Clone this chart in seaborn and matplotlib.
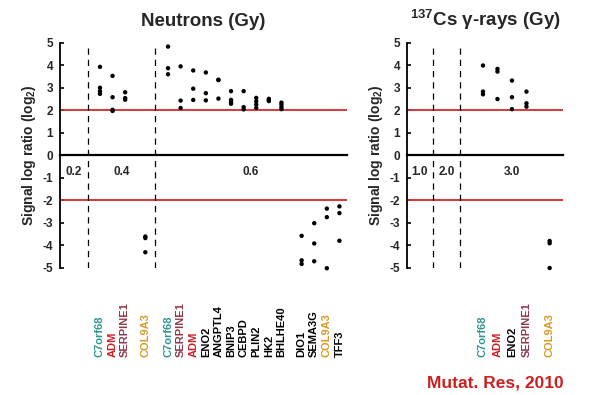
import numpy as np
import pandas as pd
import matplotlib
matplotlib.use("Agg")
import matplotlib.pyplot as plt
import matplotlib.transforms as mtransforms
import seaborn as sns

# Neutron panel data (dose in Gy, gene, log2 ratios)
neutron_doses = ["0.4"] * 4 + ["0.6"] * 14
neutron_genes = ["C7orf68", "ADM", "SERPINE1", "COL9A3",
                 "C7orf68", "SERPINE1", "ADM", "ENO2", "ANGPTL4", "BNIP3",
                 "CEBPD", "PLIN2", "HK2", "BHLHE40",
                 "DIO1", "SEMA3G", "COL9A3", "TFF3"]
neutron_values = [
    [3.94, 3.01, 2.86, 2.74],
    [3.54, 2.59, 2.03, 1.98],
    [2.81, 2.55, 2.48],
    [-3.60, -3.67, -4.30],
    [4.84, 3.88, 3.61],
    [3.96, 2.44, 2.11],
    [3.78, 2.97, 2.47],
    [3.69, 2.77, 2.45],
    [3.37, 3.35, 2.53],
    [2.86, 2.47, 2.38, 2.30],
    [2.86, 2.15, 2.05],
    [2.56, 2.41, 2.26, 2.11],
    [2.52, 2.46, 2.42],
    [2.35, 2.26, 2.15, 2.06],
    [-3.57, -4.66, -4.82],
    [-3.01, -3.91, -4.70],
    [-2.36, -2.74, -5.01],
    [-2.26, -2.56, -3.79],
]
neutron_dose_labels = ["0.2", "0.4", "0.6"]

# 137Cs gamma-ray panel data
cs_doses = ["3.0"] * 5
cs_genes = ["C7orf68", "ADM", "ENO2", "SERPINE1", "COL9A3"]
cs_values = [
    [4.00, 2.84, 2.72],
    [3.85, 3.73, 2.51],
    [3.33, 2.59, 2.06],
    [2.84, 2.32, 2.17],
    [-3.80, -3.90, -5.00],
]
cs_dose_labels = ["1.0", "2.0", "3.0"]

gene_colors = {"C7orf68": "#2f9590", "ADM": "#cf1f25",
               "SERPINE1": "#8e3b4c", "COL9A3": "#d99a22"}

sns.set_theme(style="white")
plt.rcParams["font.family"] = ["Liberation Sans", "DejaVu Sans"]
plt.rcParams["mathtext.fontset"] = "custom"
plt.rcParams["mathtext.rm"] = "Liberation Sans"
plt.rcParams["mathtext.bf"] = "Liberation Sans:bold"


def column_positions(doses, values):
    # one slot per gene, wider gaps where dose or up/down direction changes
    pos, out = 0.0, []
    prev = None
    for d, v in zip(doses, values):
        sign = np.sign(np.mean(v))
        if prev is not None:
            if d != prev[0]:
                pos += 1.8
            elif sign != prev[1]:
                pos += 1.6
            else:
                pos += 1.0
        out.append(pos)
        prev = (d, sign)
    return out


def long_table(doses, genes, values):
    xs = column_positions(doses, values)
    rows = []
    for x, g, vals in zip(xs, genes, values):
        for v in vals:
            rows.append({"x": x, "gene": g, "ratio": v})
    return pd.DataFrame(rows), xs


def draw_panel(ax, doses, genes, values, dose_labels, xlim, bounds, title):
    df, xs = long_table(doses, genes, values)
    ax.set_xlim(*xlim)
    ax.set_ylim(-5, 5)
    for y in (2, -2):
        ax.axhline(y, color="#d42a2a", lw=1.3, zorder=1)
    for b in bounds:
        ax.axvline(b, color="black", lw=0.9, ls=(0, (5, 4)), zorder=1)
    sns.scatterplot(data=df, x="x", y="ratio", ax=ax, color="black",
                    s=10, edgecolor="none", clip_on=False, zorder=3)
    # dose labels centred in each dose region
    edges = [xlim[0]] + list(bounds) + [xlim[1]]
    for lab, a, b in zip(dose_labels, edges[:-1], edges[1:]):
        ax.text((a + b) / 2, -0.75, lab, ha="center", va="center",
                fontsize=8.5, fontweight="bold")
    trans = mtransforms.blended_transform_factory(ax.transData, ax.transAxes)
    for x, g in zip(xs, genes):
        ax.text(x, -0.395, g, transform=trans, rotation=90, ha="center",
                va="bottom", fontsize=8, fontweight="bold",
                color=gene_colors.get(g, "black"))
    ax.spines["top"].set_visible(False)
    ax.spines["right"].set_visible(False)
    ax.spines["bottom"].set_position(("data", 0))
    ax.spines["bottom"].set_linewidth(1.6)
    ax.spines["left"].set_linewidth(1.3)
    for s in ("left", "bottom"):
        ax.spines[s].set_color("black")
    ax.set_xticks([xlim[1]])
    ax.set_xticklabels([""])
    ax.tick_params(axis="x", direction="out", length=4, width=1.3,
                   color="black")
    ax.set_yticks(range(-5, 6))
    ax.set_yticklabels([str(i) for i in range(-5, 6)], fontsize=8.5,
                       fontweight="bold")
    ax.tick_params(axis="y", direction="in", length=3, width=1.2,
                   color="black", pad=5, left=True)
    ax.set_xlabel("")
    ax.set_ylabel(r"Signal log ratio (log$\mathbf{_2}$)", fontsize=10,
                  fontweight="bold", labelpad=3)
    ax.set_title(title, fontsize=13.5, fontweight="bold", pad=12)
    ax.grid(False)


fig = plt.figure(figsize=(5.91, 3.95), dpi=100)
ax1 = fig.add_axes([60 / 591, 1 - 268 / 395, 287 / 591, 225 / 395])
ax2 = fig.add_axes([407 / 591, 1 - 268 / 395, 156 / 591, 225 / 395])

draw_panel(ax1, neutron_doses, neutron_genes, neutron_values,
           neutron_dose_labels, (-3.17, 19.6), [-0.95, 4.37],
           "Neutrons (Gy)")
draw_panel(ax2, cs_doses, cs_genes, cs_values, cs_dose_labels,
           (-5.24, 5.52), [-3.45, -1.59],
           r"$\mathbf{^{137}}$Cs γ-rays (Gy)")

fig.text(495 / 591, 1 - 383 / 395, "Mutat. Res, 2010", color="#cc1f1f",
         fontsize=12.5, fontweight="bold", ha="center", va="center")

fig.savefig("out.png", dpi=100)
